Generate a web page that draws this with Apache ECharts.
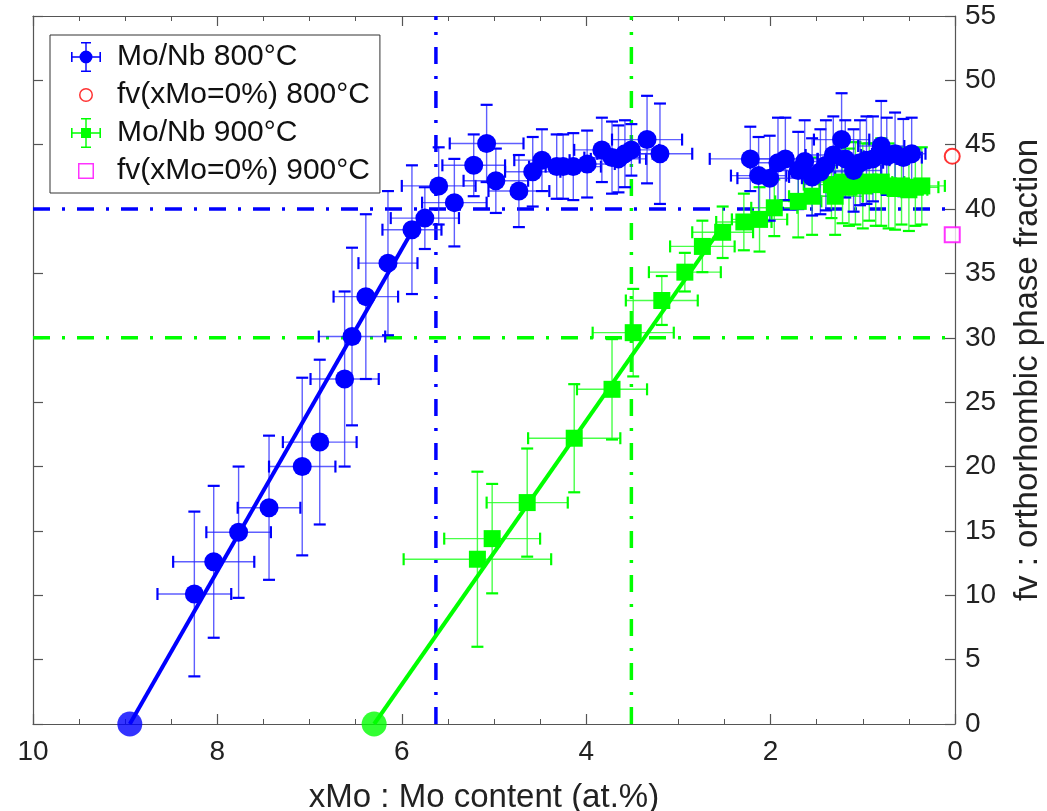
<!DOCTYPE html>
<html><head><meta charset="utf-8">
<script src="https://cdn.jsdelivr.net/npm/echarts@6/dist/echarts.min.js"></script>
<style>html,body{margin:0;padding:0;background:#fff}#c{width:1047px;height:811px}</style>
</head><body><div id="c"></div>
<script>
// ---- data: [xMo, fv, xErr, fvErr] ----
const legendNames = ['Mo/Nb 800°C', 'fv(xMo=0%) 800°C', 'Mo/Nb 900°C', 'fv(xMo=0%) 900°C'];
const blue800 = [
  [8.25,10.1,0.40,6.4],[8.04,12.6,0.44,5.9],[7.77,14.9,0.35,5.1],[7.44,16.8,0.34,5.6],
  [7.08,20.0,0.36,6.9],[6.89,21.9,0.40,6.4],[6.62,26.8,0.37,6.8],[6.54,30.1,0.36,6.9],
  [6.39,33.2,0.35,6.4],[6.15,35.8,0.32,5.6],[5.89,38.4,0.32,5.0],[5.75,39.3,0.37,2.4],
  [5.60,41.8,0.40,3.0],[5.43,40.5,0.35,3.4],[5.22,43.4,0.34,2.4],[5.08,45.1,0.40,3.0],
  [4.98,42.2,0.35,2.5],[4.73,41.4,0.33,2.8],[4.58,42.9,0.30,2.7],[4.48,43.8,0.30,2.4],
  [4.32,43.3,0.30,2.5],[4.25,43.3,0.30,2.5],[4.14,43.3,0.30,2.6],[3.99,43.5,0.30,2.6],
  [3.83,44.6,0.30,2.5],[3.72,44.0,0.30,2.8],[3.65,43.9,0.30,2.6],[3.58,44.3,0.30,2.6],
  [3.51,44.6,0.30,2.0],[3.34,45.4,0.38,3.4],[3.20,44.3,0.35,3.9],
  [2.22,43.9,0.44,2.5],[2.13,42.6,0.30,3.0],[2.01,42.4,0.35,3.3],[1.92,43.6,0.30,3.5],
  [1.84,43.9,0.35,3.2],[1.70,43.0,0.30,3.0],[1.63,43.7,0.30,3.2],[1.55,42.5,0.25,3.0],
  [1.46,42.9,0.30,3.3],[1.40,43.4,0.30,3.5],[1.32,44.2,0.30,3.0],[1.23,45.4,0.30,3.6],
  [1.19,43.9,0.30,3.0],[1.10,43.0,0.30,3.2],[1.03,43.6,0.25,3.3],[0.96,43.8,0.25,3.4],
  [0.89,43.9,0.25,3.3],[0.80,44.9,0.25,3.5],[0.74,44.1,0.25,3.0],[0.65,44.3,0.25,3.2],
  [0.56,44.0,0.20,3.0],[0.47,44.3,0.15,2.8]
];
const green900 = [
  [5.18,12.8,0.80,6.8],[5.02,14.4,0.52,4.25],[4.64,17.2,0.44,4.2],[4.13,22.2,0.50,4.2],
  [3.72,26.0,0.38,3.9],[3.49,30.4,0.44,3.4],[3.18,32.9,0.39,1.9],[2.93,35.1,0.39,1.5],
  [2.74,37.1,0.35,2.0],[2.52,38.2,0.33,2.0],[2.29,39.0,0.30,2.2],[2.12,39.2,0.30,2.5],
  [1.96,40.1,0.25,2.2],[1.70,40.6,0.25,2.8],[1.55,41.0,0.25,3.0],[1.34,41.9,0.30,2.6],
  [1.30,41.0,0.30,3.0],[1.22,42.1,0.25,3.2],[1.15,41.7,0.25,3.0],[1.08,42.0,0.25,3.2],
  [1.00,41.8,0.25,3.3],[0.93,42.1,0.25,3.0],[0.86,41.9,0.25,3.2],[0.80,42.1,0.25,3.4],
  [0.72,41.8,0.25,3.3],[0.65,41.6,0.25,3.2],[0.58,41.8,0.25,3.0],[0.50,41.5,0.20,3.2],
  [0.43,41.7,0.25,3.0],[0.36,41.8,0.25,3.0]
];
const fv0_800 = [[0.03, 44.1]];
const fv0_900 = [[0.03, 38.0]];
const fit800 = [[8.95, 0], [5.88, 38.4]];
const fit900 = [[6.30, 0], [2.55, 38.4]];
const xCrit = [5.63, 3.51];   // vertical dash-dot lines (800, 900)
const fvCrit = [40, 30];      // horizontal dash-dot lines (800, 900)
const xRange = [0, 10];
const yRange = [0, 55];

// ---- styling ----
const FONT = 'Liberation Sans, Arial, sans-serif';
const BLUE = '#0000ff', GREEN = '#00ff00';
const AX = '#555';
const DASHDOT = [17, 12, 3, 12];

function errRender(lineColor, capColor) {
  return function (params, api) {
    const x = api.value(0), y = api.value(1), ex = api.value(2), ey = api.value(3);
    const pL = api.coord([x - ex, y]), pR = api.coord([x + ex, y]);
    const pT = api.coord([x, y + ey]), pB = api.coord([x, y - ey]);
    const c = 6;
    const st = { stroke: lineColor, lineWidth: 1.4 };
    const cs = { stroke: capColor, lineWidth: 2.2 };
    return { type: 'group', children: [
      { type: 'line', shape: { x1: pL[0], y1: pL[1], x2: pR[0], y2: pR[1] }, style: st },
      { type: 'line', shape: { x1: pT[0], y1: pT[1], x2: pB[0], y2: pB[1] }, style: st },
      { type: 'line', shape: { x1: pL[0], y1: pL[1] - c, x2: pL[0], y2: pL[1] + c }, style: cs },
      { type: 'line', shape: { x1: pR[0], y1: pR[1] - c, x2: pR[0], y2: pR[1] + c }, style: cs },
      { type: 'line', shape: { x1: pT[0] - c, y1: pT[1], x2: pT[0] + c, y2: pT[1] }, style: cs },
      { type: 'line', shape: { x1: pB[0] - c, y1: pB[1], x2: pB[0] + c, y2: pB[1] }, style: cs }
    ]};
  };
}

const bars = 'M0,14.3H30V15.7H0Z M14.3,0H15.7V30H14.3Z M0,10H1.6V20H0Z M28.4,10H30V20H28.4Z M10,0H20V1.6H10Z M10,28.4H20V30H10Z ';
const ext = ' M0,0L0.01,0Z M41,30L40.99,30Z';
const iconBlue = 'path://' + bars + 'M21.5,15A6.5,6.5 0 1,1 8.5,15A6.5,6.5 0 1,1 21.5,15Z' + ext;
const iconGreen = 'path://' + bars + 'M10,10H20V20H10Z' + ext;
const iconRing = 'path://M22,15A7,7 0 1,1 8,15A7,7 0 1,1 22,15Z M20.5,15A5.5,5.5 0 1,0 9.5,15A5.5,5.5 0 1,0 20.5,15Z' + ext;
const iconSq = 'path://M7,7H23V23H7Z M8.5,8.5V21.5H21.5V8.5Z' + ext;

const chart = echarts.init(document.getElementById('c'), null, { renderer: 'canvas' });
const baseX = {
  type: 'value', min: xRange[0], max: xRange[1], interval: 2, inverse: true,
  axisLine: { show: true, onZero: false, lineStyle: { color: AX, width: 1.2 } },
  axisTick: { show: true, inside: true, length: 10, lineStyle: { color: AX, width: 1.2 } },
  minorTick: { show: true, splitNumber: 4, length: 5, lineStyle: { color: AX, width: 1 } },
  splitLine: { show: false }
};
const baseY = {
  type: 'value', min: yRange[0], max: yRange[1], interval: 5,
  axisLine: { show: true, onZero: false, lineStyle: { color: AX, width: 1.2 } },
  axisTick: { show: true, inside: true, length: 10, lineStyle: { color: AX, width: 1.2 } },
  splitLine: { show: false }
};

chart.setOption({
  animation: false,
  backgroundColor: '#fff',
  grid: { left: 33, right: 92, top: 16, bottom: 87, containLabel: false, outerBoundsMode: 'none' },
  xAxis: [
    Object.assign({}, baseX, {
      position: 'bottom',
      name: 'xMo : Mo content (at.%)', nameLocation: 'middle', nameGap: 57,
      nameTextStyle: { fontSize: 33, fontFamily: FONT, color: '#222', padding: [0, 20, 0, 0] },
      axisLabel: { fontSize: 28, fontFamily: FONT, color: '#222', margin: 14 }
    }),
    Object.assign({}, baseX, { position: 'top', axisLabel: { show: false } })
  ],
  yAxis: [
    Object.assign({}, baseY, {
      position: 'right',
      name: 'fv : orthorhombic phase fraction', nameLocation: 'middle', nameGap: 56, nameRotate: 90,
      nameTextStyle: { fontSize: 33, fontFamily: FONT, color: '#222' },
      axisLabel: { fontSize: 28, fontFamily: FONT, color: '#222', margin: 10 }
    }),
    Object.assign({}, baseY, { position: 'left', axisLabel: { show: false } })
  ],
  legend: {
    orient: 'vertical', left: 50, top: 35,
    itemWidth: 41, itemHeight: 30, itemGap: 8,
    padding: [7, 10, 7, 21],
    borderColor: '#333', borderWidth: 1, backgroundColor: '#fff',
    selectedMode: false,
    textStyle: { fontSize: 30, fontFamily: FONT, color: '#111' },
    data: [
      { name: legendNames[0], icon: iconBlue, itemStyle: { color: BLUE, borderWidth: 0 } },
      { name: legendNames[1], icon: iconRing, itemStyle: { color: '#ff0000', borderWidth: 0 } },
      { name: legendNames[2], icon: iconGreen, itemStyle: { color: GREEN, borderWidth: 0 } },
      { name: legendNames[3], icon: iconSq, itemStyle: { color: '#ff00ff', borderWidth: 0 } }
    ]
  },
  series: [
    { name: 'v800', type: 'line', z: 1, data: [[xCrit[0], yRange[0]], [xCrit[0], yRange[1]]], showSymbol: false, silent: true,
      lineStyle: { color: BLUE, width: 3.5, type: DASHDOT } },
    { name: 'v900', type: 'line', z: 1, data: [[xCrit[1], yRange[0]], [xCrit[1], yRange[1]]], showSymbol: false, silent: true,
      lineStyle: { color: GREEN, width: 3.5, type: DASHDOT } },
    { name: 'h800', type: 'line', z: 1, data: [[xRange[1], fvCrit[0]], [xRange[0], fvCrit[0]]], showSymbol: false, silent: true,
      lineStyle: { color: BLUE, width: 3.5, type: DASHDOT } },
    { name: 'h900', type: 'line', z: 1, data: [[xRange[1], fvCrit[1]], [xRange[0], fvCrit[1]]], showSymbol: false, silent: true,
      lineStyle: { color: GREEN, width: 3.5, type: DASHDOT } },
    { name: 'err900', type: 'custom', z: 2, renderItem: errRender('rgba(40,255,40,0.85)', GREEN),
      encode: { x: 0, y: 1 }, data: green900, silent: true },
    { name: 'err800', type: 'custom', z: 2, renderItem: errRender('rgba(40,40,255,0.75)', BLUE),
      encode: { x: 0, y: 1 }, data: blue800, silent: true },
    { name: 'fit800', type: 'line', z: 3, data: fit800, showSymbol: false, lineStyle: { color: BLUE, width: 4 } },
    { name: 'fit900', type: 'line', z: 3, data: fit900, showSymbol: false, lineStyle: { color: GREEN, width: 4 } },
    { name: 'end800', type: 'scatter', z: 4, data: [fit800[0]], symbol: 'circle', symbolSize: 25, itemStyle: { color: BLUE } },
    { name: 'end900', type: 'scatter', z: 4, data: [fit900[0]], symbol: 'circle', symbolSize: 25, itemStyle: { color: GREEN } },
    { name: legendNames[2], type: 'scatter', z: 4, data: green900.map(d => [d[0], d[1]]), symbol: 'rect', symbolSize: 17,
      itemStyle: { color: GREEN, opacity: 1 } },
    { name: legendNames[0], type: 'scatter', z: 5, data: blue800.map(d => [d[0], d[1]]), symbol: 'circle', symbolSize: 19,
      itemStyle: { color: BLUE, opacity: 1 } },
    { name: legendNames[1], type: 'scatter', z: 5, data: fv0_800, symbol: 'emptyCircle', symbolSize: 15,
      itemStyle: { color: '#ff0000', borderWidth: 1.5 } },
    { name: legendNames[3], type: 'scatter', z: 5, data: fv0_900, symbol: 'emptyRect', symbolSize: 15,
      itemStyle: { color: '#ff00ff', borderWidth: 1.5 } }
  ]
});
</script>
</body></html>
